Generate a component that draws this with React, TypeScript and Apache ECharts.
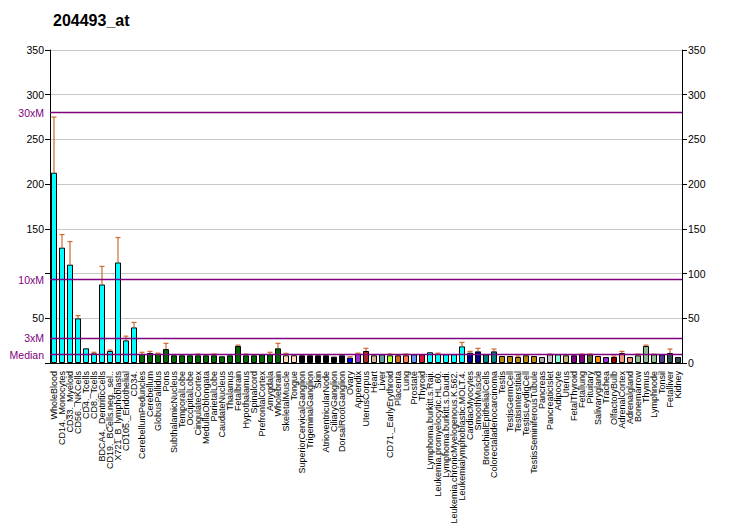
import React, { useEffect, useRef } from "react";
import * as echarts from "echarts";

const categories = [
  "WholeBlood", "CD14._Monocytes", "CD33._Myeloid", "CD56._NKCells", "CD4._Tcells", "CD8._Tcells",
  "BDCA4._DentriticCells", "CD19._BCells.neg._sel..", "X721_B_lymphoblasts", "CD105._Endothelial", "CD34.",
  "CerebellumPeduncles", "Cerebellum", "GlobusPallidus", "Pons", "SubthalamicNucleus", "TemporalLobe",
  "OccipitalLobe", "CingulateCortex", "MedullaOblongata", "ParietalLobe", "CaudateNucleus", "Thalamus",
  "Fetalbrain", "Hypothalamus", "Spinalcord", "PrefrontalCortex", "Amygdala", "Wholebrain",
  "SkeletalMuscle", "Tongue", "SuperiorCervicalGanglion", "TrigeminalGanglion", "Skin",
  "AtrioventricularNode", "CiliaryGanglion", "DorsalRootGanglion", "Ovary", "Appendix", "UterusCorpus",
  "Heart", "Liver", "CD71._EarlyErythroid", "Placenta", "Lung", "Prostate", "Thyroid",
  "Lymphoma.burkitt.s.Raji.", "Leukemia.promyelocytic.HL.60.", "Lymphoma.burkitt.s.Daudi.",
  "Leukemia.chronicMyelogenous.K.562.", "Leukemialymphoblastic.MOLT.4.", "CardiacMyocytes",
  "SmoothMuscle", "BronchialEpithelialCells", "Colorectaladenocarcinoma", "Testis", "TestisGermCell",
  "TestisInterstitial", "TestisLeydigCell", "TestisSeminiferousTubule", "Pancreas", "PancreaticIslet",
  "Adipocyte", "Uterus", "FetalThyroid", "Fetallung", "Pituitary", "Salivarygland", "Trachea",
  "OlfactoryBulb", "AdrenalCortex", "Adrenalgland", "Bonemarrow", "Thymus", "Lymphnode", "Tonsil",
  "Fetalliver", "Kidney",
];

const values = [
  212.8, 129, 110, 49.9, 16.4, 10.8, 87.8, 13.4, 112.4, 25.3, 39.8,
  10, 11.2, 10.4, 15.6, 8.6, 8.6, 8.6, 8.6, 8.6, 8.6, 7.5, 8.6, 19, 8.6, 8.6, 9.7, 9.7, 16.4,
  8.6, 8.6,
  8.6, 8.6, 8.6, 8.6, 7.1, 8.6,
  6, 10.4, 13.4, 8.6, 9.7, 8.6, 8.6, 8.6, 9.7, 9.7,
  12, 10.4, 9.7, 9.7, 18.6,
  11.5, 13, 9.7, 13,
  7.8, 7.8, 6.7, 8.6, 7.8,
  6.7, 9.7, 9.7, 8.6, 8.6, 9.7, 9.7, 7.8, 6.7, 6.7, 11.2, 6.7, 8.6, 19, 9.7, 9.7, 11.2, 6.7,
];

const errors = [
  62.2, 14.6, 25.8, 3.1, 0, 1.2, 20.2, 1.1, 27.9, 4.7, 5.6,
  2, 1.8, 0.6, 6.4, 0, 0, 0, 1.4, 0, 1.4, 0, 0, 1, 1.4, 0, 0, 2.3, 5.6,
  2.2, 0,
  0, 0, 0, 0, 0, 0,
  1, 0.6, 3, 0, 0, 1.4, 0, 1.4, 0, 0,
  0, 0.6, 0, 0, 4.4,
  1.5, 3.4, 0, 2.6,
  0, 0, 1.1, 0, 0,
  0, 0.3, 0, 0, 0, 0.3, 0.3, 0, 0, 1.1, 1.8, 0, 1.4, 1, 0.3, 0, 4.4, 0,
];

const barColors = [
  ...Array(11).fill("#00FFFF"),
  ...Array(18).fill("#006400"),
  "#FFDAB9", "#FFDAB9",
  ...Array(6).fill("#000000"),
  "#0000FF", "#9932CC", "#A52A2A", "#D2B48C", "#5F9EA0", "#ADFF2F", "#D2691E", "#FF7F50", "#6495ED", "#DC143C",
  ...Array(5).fill("#00FFFF"),
  "#000080", "#000080", "#008080", "#008080",
  ...Array(5).fill("#B8860B"),
  "#A9A9A9", "#C0C0C0", "#7FFFD4", "#BDB76B", "#800080", "#800080", "#556B2F", "#FF8C00", "#9932CC",
  "#8B0000", "#E9967A", "#E9967A", "#8FBC8F", "#8FBC8F", "#8FBC8F", "#483D8B", "#2F4F4F", "#2F4F4F",
];

const refLines = [
  { name: "30xM", value: 280 },
  { name: "10xM", value: 93.3 },
  { name: "3xM", value: 28 },
  { name: "Median", value: 9.33 },
];

const title = "204493_at";
const FONT = "'Liberation Sans', Arial, sans-serif";

export default function App() {
  const ref = useRef<HTMLDivElement>(null);
  useEffect(() => {
    document.body.style.margin = "0";
    const chart = echarts.init(ref.current!, null, { renderer: "svg" });
    const errData = values
      .map((v, i) => [i, v, v + errors[i]])
      .filter((d, i) => errors[i] > 0);
    const yCommon = {
      type: "value",
      min: 0,
      max: 350,
      interval: 50,
      axisLine: { show: true, lineStyle: { color: "#000", width: 1 } },
      axisTick: { show: true, length: 5, lineStyle: { color: "#000" } },
    };
    chart.setOption({
      animation: false,
      textStyle: { fontFamily: FONT },
      title: {
        text: title,
        left: 53,
        top: 12,
        padding: 0,
        textStyle: { fontFamily: FONT, fontSize: 16, fontWeight: "bold", color: "#000" },
      },
      grid: { left: 50, right: 50, top: 50, bottom: 167, containLabel: false },
      xAxis: {
        type: "category",
        data: categories,
        boundaryGap: true,
        axisLine: { lineStyle: { color: "#000" } },
        axisTick: { alignWithLabel: true, length: 5, lineStyle: { color: "#000" } },
        axisLabel: {
          interval: 0,
          rotate: 90,
          margin: 8,
          fontSize: 9,
          color: "#000",
          fontFamily: FONT,
        },
      },
      yAxis: [
        {
          ...yCommon,
          position: "left",
          splitLine: { show: true, lineStyle: { color: "#C8C8C8", width: 1 } },
          axisLabel: {
            margin: 6,
            fontSize: 10.5,
            color: "#000",
            fontFamily: FONT,
            formatter: (v: number) => (v === 0 || v === 100 ? "" : String(v)),
          },
        },
        {
          ...yCommon,
          position: "right",
          splitLine: { show: false },
          axisLabel: { margin: 6, fontSize: 10.5, color: "#000", fontFamily: FONT },
        },
      ],
      series: [
        {
          type: "bar",
          yAxisIndex: 0,
          barWidth: 6,
          data: values.map((v, i) => ({
            value: v,
            itemStyle: { color: barColors[i], borderColor: "#000", borderWidth: 1 },
          })),
          markLine: {
            silent: true,
            symbol: ["none", "none"],
            lineStyle: { color: "#800080", width: 1.3, type: "solid" },
            label: {
              show: true,
              position: "start",
              distance: 6,
              color: "#800080",
              fontSize: 10.5,
              fontFamily: FONT,
              formatter: (p: any) => p.name,
            },
            data: refLines.map((r) => ({ name: r.name, yAxis: r.value })),
          },
          z: 2,
        },
        {
          type: "custom",
          yAxisIndex: 0,
          z: 3,
          renderItem: (params: any, api: any) => {
            const base = api.coord([api.value(0), api.value(1)]);
            const top = api.coord([api.value(0), api.value(2)]);
            const style = { stroke: "#CD6A2E", lineWidth: 1.2 };
            return {
              type: "group",
              children: [
                { type: "line", shape: { x1: base[0], y1: base[1], x2: top[0], y2: top[1] }, style },
                { type: "line", shape: { x1: top[0] - 2.5, y1: top[1], x2: top[0] + 2.5, y2: top[1] }, style },
              ],
            };
          },
          data: errData,
        },
      ],
    });
    return () => chart.dispose();
  }, []);
  return <div ref={ref} style={{ width: 732, height: 530 }} />;
}
